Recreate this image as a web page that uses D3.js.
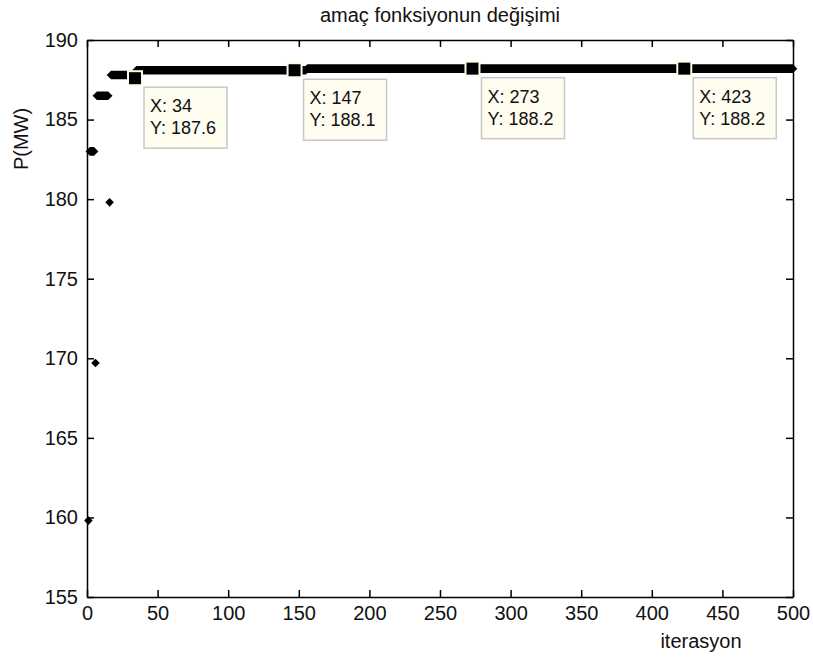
<!DOCTYPE html>
<html>
<head>
<meta charset="utf-8">
<script src="https://cdn.jsdelivr.net/npm/d3@7"></script>
<style>
  body { margin: 0; background: #fff; }
  text { font-family: "Liberation Sans", Arial, sans-serif; }
</style>
</head>
<body>
<script>
const width = 813;
const height = 658;
const margin = {left: 87, top: 40, right: 20, bottom: 61};

// runs of iterations that share the same best value (start, end, value)
const runStart = [1, 2, 6, 7, 16, 17, 34, 35, 156];
const runEnd   = [1, 5, 6, 15, 16, 33, 34, 155, 500];
const runValue = [159.8, 183.0, 169.7, 186.5, 179.8, 187.8, 187.6, 188.1, 188.2];

// data tips
const tipX = [34, 147, 273, 423];
const tipY = [187.6, 188.1, 188.2, 188.2];

const xTicks = [0, 50, 100, 150, 200, 250, 300, 350, 400, 450, 500];
const yTicks = [155, 160, 165, 170, 175, 180, 185, 190];

const svg = d3.select("body").append("svg")
    .attr("width", width)
    .attr("height", height);

svg.append("rect").attr("width", width).attr("height", height).attr("fill", "#fff");

const x = d3.scaleLinear().domain([0, 500]).range([margin.left, width - margin.right]);
const y = d3.scaleLinear().domain([155, 190]).range([height - margin.bottom, margin.top]);

const tick = 7;

// bottom axis with labels
svg.append("g")
    .attr("transform", "translate(0," + y(155) + ")")
    .call(d3.axisBottom(x).tickValues(xTicks).tickSizeInner(-tick).tickSizeOuter(0).tickPadding(9));
// left axis with labels
svg.append("g")
    .attr("transform", "translate(" + x(0) + ",0)")
    .call(d3.axisLeft(y).tickValues(yTicks).tickSizeInner(-tick).tickSizeOuter(0).tickPadding(9));
// top and right: ticks only
svg.append("g")
    .attr("transform", "translate(0," + y(190) + ")")
    .call(d3.axisTop(x).tickValues(xTicks).tickSizeInner(-tick).tickSizeOuter(0).tickFormat(""));
svg.append("g")
    .attr("transform", "translate(" + x(500) + ",0)")
    .call(d3.axisRight(y).tickValues(yTicks).tickSizeInner(-tick).tickSizeOuter(0).tickFormat(""));

svg.selectAll(".domain").attr("stroke", "#000").attr("stroke-width", 1.5);
svg.selectAll(".tick line").attr("stroke", "#000").attr("stroke-width", 1.5);
svg.selectAll(".tick text").attr("font-size", 20).attr("fill", "#111")
    .attr("font-family", "'Liberation Sans', Arial, sans-serif");

// runs drawn as thick strips with pointed ends (overlapping dot markers)
const r = 4.3;
const runs = runStart.map((s, i) => ({s: s, e: runEnd[i], v: runValue[i]}));
svg.append("g").selectAll("path")
  .data(runs).enter()
  .append("path")
    .attr("fill", "#000")
    .attr("d", function(d) {
      const x0 = x(d.s), x1 = x(d.e), yy = y(d.v);
      return "M" + (x0 - r) + "," + yy +
             "L" + x0 + "," + (yy - r) +
             "L" + x1 + "," + (yy - r) +
             "L" + (x1 + r) + "," + yy +
             "L" + x1 + "," + (yy + r) +
             "L" + x0 + "," + (yy + r) + "Z";
    });

// data tips
const tips = tipX.map((t, i) => ({x: t, y: tipY[i]}));
const tg = svg.append("g").selectAll("g")
  .data(tips).enter()
  .append("g")
    .attr("transform", d => "translate(" + x(d.x) + "," + y(d.y) + ")");

tg.append("rect")
    .attr("x", -7).attr("y", -7).attr("width", 14).attr("height", 14)
    .attr("fill", "#000").attr("stroke", "#fffbe8").attr("stroke-width", 2);

tg.append("rect")
    .attr("x", 9).attr("y", 9).attr("width", 83).attr("height", 61)
    .attr("fill", "#fffcf0").attr("stroke", "#c8c8c8").attr("stroke-width", 1.5);

tg.append("text")
    .attr("x", 15).attr("y", 34)
    .attr("font-size", 18).attr("fill", "#111")
    .text(d => "X: " + d.x);
tg.append("text")
    .attr("x", 15).attr("y", 56)
    .attr("font-size", 18).attr("fill", "#111")
    .text(d => "Y: " + d.y.toFixed(1));

// title and labels
svg.append("text")
    .attr("x", 440).attr("y", 22)
    .attr("text-anchor", "middle")
    .attr("font-size", 20).attr("fill", "#111")
    .text("amaç fonksiyonun değişimi");

svg.append("text")
    .attr("x", 701).attr("y", 648)
    .attr("text-anchor", "middle")
    .attr("font-size", 20).attr("fill", "#111")
    .text("iterasyon");

svg.append("text")
    .attr("transform", "translate(28,139) rotate(-90)")
    .attr("text-anchor", "middle")
    .attr("font-size", 20).attr("fill", "#111")
    .text("P(MW)");
</script>
</body>
</html>
